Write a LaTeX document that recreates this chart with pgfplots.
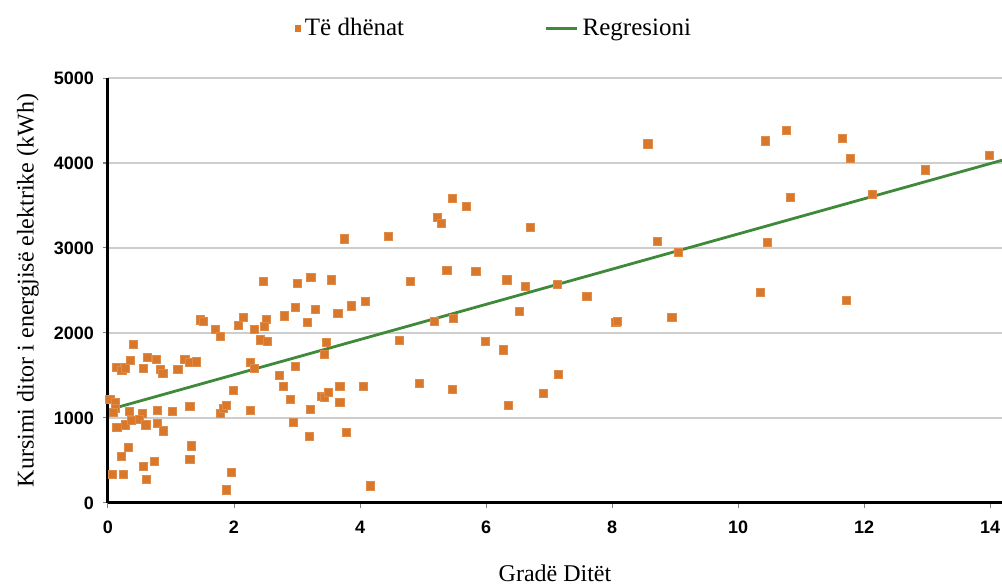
\documentclass[border=0pt]{standalone}
\usepackage{pgfplots}
\pgfplotsset{compat=1.18}
\usepackage{fontspec}
\setmainfont{Liberation Serif}
\newfontfamily\ticksf{Liberation Sans}
\definecolor{pts}{RGB}{217,120,43}
\definecolor{reg}{RGB}{62,138,58}
\definecolor{gridc}{RGB}{205,205,205}
\begin{document}
\begin{tikzpicture}
\begin{axis}[
  scale only axis,
  width=447pt, height=212.5pt,
  xmin=0, xmax=14.19, ymin=0, ymax=5000,
  xtick={0,2,...,14}, ytick={0,1000,...,5000},
  axis x line*=bottom, axis y line*=left,
  axis line style={line width=1.5pt, black, -},
  ymajorgrids, grid style={gridc, line width=0.9pt},
  tick align=outside, major tick length=2.5pt,
  tick style={gray, line width=0.5pt},
  /pgf/number format/assume math mode=true,
  /pgf/number format/1000 sep={},
  ticklabel style={font=\ticksf\bfseries\fontsize{9}{10}\selectfont},
  xticklabel style={yshift=-3pt},
  yticklabel style={xshift=-1pt},
  xlabel={Gradë Ditët},
  ylabel={Kursimi ditor i energjisë elektrike (kWh)},
  label style={font=\fontsize{12}{14}\selectfont},
  xlabel style={at={(axis description cs:0.5,-0.165)}, anchor=center},
  ylabel style={at={(axis description cs:-0.0895,0.5)}, anchor=center},
  legend style={at={(0.433,1.117)}, anchor=center, draw=none, fill=none,
    font=\fontsize{12.5}{14}\selectfont, legend columns=2,
    /tikz/every even column/.append style={column sep=68pt}},
  legend image code/.code={},
]
\addplot[only marks, mark=square*, mark size=2.05pt,
  mark options={fill=pts, draw=pts!85!white, line width=0.4pt},
  legend image code/.code={\draw[fill=pts, draw=none] (0.05cm,-0.06cm) rectangle (0.15cm,0.06cm);}]
table {
x y
1.47 2153
1.51 2140
1.71 2043
1.78 1957
2.07 2094
2.15 2185
0.40 1867
0.13 1596
0.22 1560
0.28 1590
0.36 1682
0.56 1585
0.62 1714
0.77 1690
0.83 1573
0.87 1526
1.11 1573
1.22 1690
1.30 1650
1.40 1660
1.99 1321
2.26 1651
2.26 1090
0.03 1220
0.12 1180
0.12 1110
0.08 1070
0.34 1074
0.55 1055
0.79 1094
1.02 1074
1.30 1141
1.78 1050
1.83 1110
1.88 1150
0.14 886
0.27 918
0.37 968
0.50 985
0.60 918
0.79 938
0.88 847
0.32 651
0.21 545
0.56 435
0.74 494
0.61 282
0.24 341
0.07 333
1.33 671
1.30 514
1.96 356
1.88 153
3.75 3106
2.47 2604
3.00 2584
3.22 2655
3.55 2624
2.97 2298
3.29 2282
2.80 2200
3.17 2121
3.65 2232
3.86 2318
4.09 2368
2.32 2043
2.51 2161
2.48 2074
2.42 1918
2.53 1898
3.47 1886
3.43 1749
2.33 1585
2.97 1604
2.72 1498
2.78 1376
2.89 1220
3.21 1102
3.39 1251
3.44 1239
3.50 1298
3.68 1368
3.68 1180
4.05 1376
2.94 949
3.20 788
3.79 827
4.16 200
4.45 3133
5.47 3585
5.69 3494
5.23 3361
5.29 3291
4.80 2604
5.38 2741
5.84 2729
6.33 2624
5.18 2141
5.48 2173
4.62 1910
5.99 1898
6.27 1800
4.94 1408
5.47 1337
6.35 1145
6.71 3239
8.72 3074
9.05 2945
6.63 2545
7.13 2573
7.60 2427
6.53 2251
8.06 2120
8.09 2135
8.95 2185
7.15 1514
6.91 1290
8.57 4224
10.44 4259
10.77 4388
11.66 4290
11.79 4055
13.99 4094
12.98 3918
10.83 3592
12.13 3635
10.47 3062
10.36 2479
11.72 2380
};
\addlegendentry{Të dhënat}
\addplot[reg, line width=1.4pt,
  legend image code/.code={\draw[reg, line width=1.6pt] (0cm,0cm) -- (0.55cm,0cm);}]
coordinates {(0.15,1126) (14.19,4032)};
\addlegendentry{Regresioni}
\end{axis}
\pgfresetboundingbox
\useasboundingbox (-54pt,-42pt) rectangle (447pt,251.5pt);
\end{tikzpicture}
\end{document}
